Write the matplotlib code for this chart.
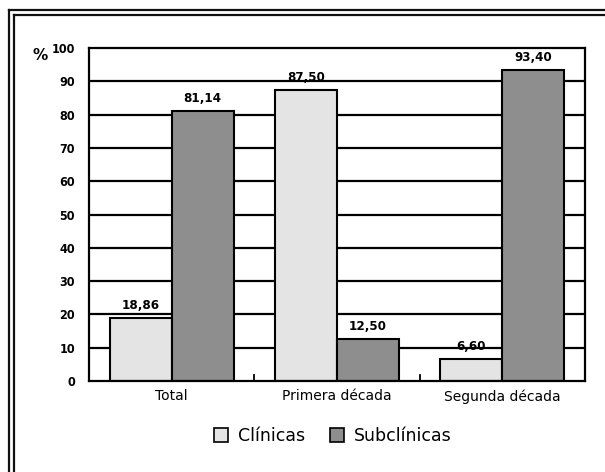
import matplotlib
matplotlib.use("Agg")
import matplotlib.pyplot as plt
import numpy as np
from matplotlib.lines import Line2D
from matplotlib.patches import Patch

categories = ["Total", "Primera década", "Segunda década"]
clinicas = [18.86, 87.50, 6.60]
subclinicas = [81.14, 12.50, 93.40]
clin_labels = ["18,86", "87,50", "6,60"]
sub_labels = ["81,14", "12,50", "93,40"]
yticks = [0, 10, 20, 30, 40, 50, 60, 70, 80, 90, 100]

narrow = dict(family="DejaVu Sans", stretch="condensed")

fig = plt.figure(figsize=(6.05, 4.72), dpi=100)
ax = fig.add_axes([89 / 605, 1 - 381 / 472, 496 / 605, 333 / 472])

x = np.arange(len(categories))
w = 0.376
ax.bar(x - w / 2, clinicas, w, color="#e4e4e4", edgecolor="black", linewidth=1.5, zorder=3)
ax.bar(x + w / 2, subclinicas, w, color="#8e8e8e", edgecolor="black", linewidth=1.5, zorder=3)

for xi, v, t in zip(x - w / 2, clinicas, clin_labels):
    ax.text(xi, v + 1.8, t, ha="center", va="bottom", fontsize=9.5, fontweight="bold", **narrow)
for xi, v, t in zip(x + w / 2, subclinicas, sub_labels):
    ax.text(xi, v + 1.8, t, ha="center", va="bottom", fontsize=9.5, fontweight="bold", **narrow)

for yv in yticks[1:-1]:
    ax.axhline(yv, color="black", linewidth=1.6, zorder=1)

ax.set_xlim(-0.5, 2.5)
ax.set_ylim(0, 100)
ax.set_yticks(yticks)
ax.set_yticklabels([str(v) for v in yticks], fontsize=9, fontweight="bold", **narrow)
ax.tick_params(axis="y", length=0, pad=10)
ax.set_xticks(x)
ax.set_xticklabels(categories, fontsize=10, family="DejaVu Sans")
ax.tick_params(axis="x", length=0, pad=6)
# small boundary ticks between groups
for b in [0.5, 1.5]:
    ax.plot([b, b], [0, 1.8], color="black", linewidth=1.3, zorder=4, clip_on=False)
for s in ax.spines.values():
    s.set_linewidth(1.6)
    s.set_zorder(5)

fig.text(40 / 605, 1 - 56 / 472, "%", fontsize=11, fontweight="bold", ha="center", va="center")

handles = [Patch(facecolor="#e4e4e4", edgecolor="black", linewidth=1.2),
           Patch(facecolor="#8e8e8e", edgecolor="black", linewidth=1.2)]
fig.legend(handles, ["Clínicas", "Subclínicas"], loc="center", bbox_to_anchor=(333 / 605, 1 - 436 / 472),
           ncol=2, frameon=False, fontsize=12.5, handlelength=0.8, handleheight=0.8,
           handletextpad=0.6, columnspacing=1.4)

# double frame on top and left
for px in [9, 14]:
    fig.add_artist(Line2D([px / 605, px / 605], [0, 1 - px / 472 - 1 / 472], color="#111111", linewidth=1.6))
for py in [10, 15]:
    fig.add_artist(Line2D([(py - 1) / 605, 1], [1 - py / 472, 1 - py / 472], color="#111111", linewidth=1.6))

fig.savefig("out.png", dpi=100)
